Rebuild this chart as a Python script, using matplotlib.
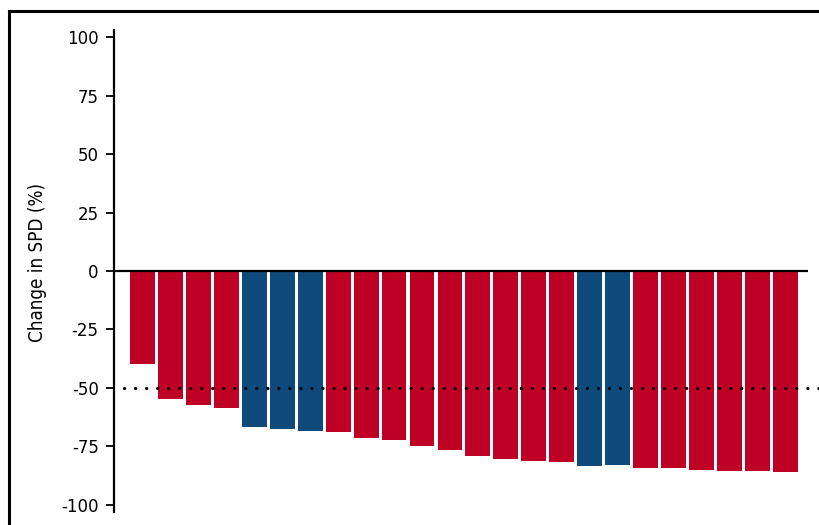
import numpy as np
import matplotlib.pyplot as plt
from matplotlib.lines import Line2D

plt.rcParams['axes.unicode_minus'] = False

# percent change in SPD for each patient, sorted
spd_change = [-39.7, -54.7, -57.3, -58.6, -66.7, -67.6, -68.4, -68.9,
              -71.4, -72.4, -75.0, -76.7, -79.1, -80.4, -81.4, -81.8,
              -83.4, -83.0, -84.3, -84.3, -85.1, -85.6, -85.6, -86.0]
# which bars are drawn in blue
group_b = [False, False, False, False, True, True, True, False,
           False, False, False, False, False, False, False, False,
           True, True, False, False, False, False, False, False]
y_ticks = [100, 75, 50, 25, 0, -25, -50, -75, -100]
threshold = -50

red = '#BE0024'
blue = '#0E4A7C'

fig = plt.figure(figsize=(8.19, 5.25), dpi=100)
ax = fig.add_axes([114 / 819, 1 - 512 / 525, 694 / 819, 482 / 525])

x = np.arange(len(spd_change))
colors = [blue if b else red for b in group_b]
ax.bar(x, spd_change, width=0.89, color=colors, align='center', zorder=2)

# zero line and the -50% response threshold
ax.axhline(0, color='black', lw=1.6, zorder=3)
ax.plot([-0.66, 24.4], [threshold, threshold], color='black', lw=2.3,
        linestyle=(0, (0.05, 3.4)), dash_capstyle='round', clip_on=False, zorder=4)

ax.set_xlim(-1.02, 23.81)
ax.set_ylim(-103, 103)
ax.set_yticks(y_ticks)
ax.set_yticklabels([str(t) for t in y_ticks], fontsize=12, family='DejaVu Sans')
ax.set_xticks([])
for s in ['top', 'right', 'bottom']:
    ax.spines[s].set_visible(False)
ax.spines['left'].set_linewidth(1.6)
ax.tick_params(axis='y', direction='out', length=5.5, width=1.3, pad=5.5)

ax.set_ylabel('Change in SPD (%)', fontsize=13.5, family='DejaVu Sans',
              fontstretch='condensed')
ax.yaxis.set_label_coords(-0.097, 0.517)

# outer frame lines (top and left)
fig.add_artist(Line2D([8.5 / 819, 1.0], [1 - 10.5 / 525, 1 - 10.5 / 525],
                      transform=fig.transFigure, color='black', lw=2.2))
fig.add_artist(Line2D([8.5 / 819, 8.5 / 819], [0.0, 1 - 10.5 / 525],
                      transform=fig.transFigure, color='black', lw=2.2))

plt.savefig('out.png', dpi=100)
